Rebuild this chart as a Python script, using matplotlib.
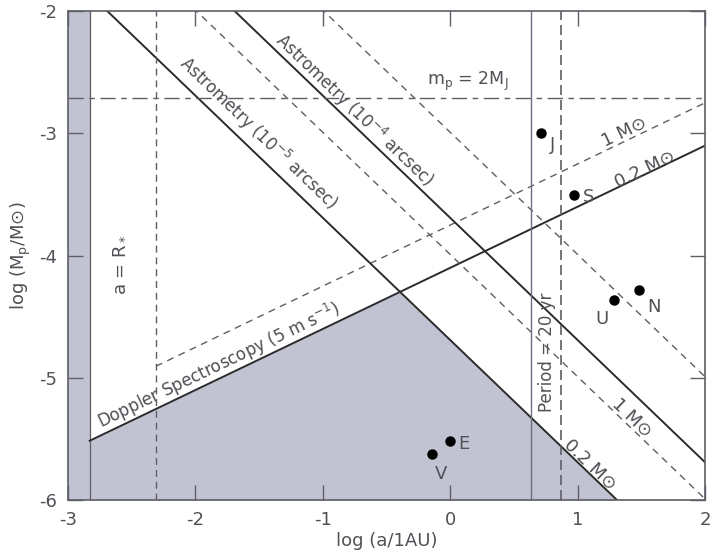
import numpy as np
import matplotlib
matplotlib.use('Agg')
import matplotlib.pyplot as plt

plt.rcParams['font.family'] = ['DejaVu Sans']
plt.rcParams['axes.unicode_minus'] = False

# Планеты Солнечной системы: log(a/1AU), log(Mp/Msun)
planets = ['J', 'S', 'U', 'N', 'E', 'V']
planet_x = [0.716, 0.975, 1.283, 1.479, 0.0, -0.141]
planet_y = [-3.00, -3.50, -4.36, -4.28, -5.52, -5.62]
label_off = [(6, -8), (6, -2), (-13, -14), (6, -12), (6, -2), (2, -15)]

# Границы (наклон, пересечение с осью y)
dopp_slope = 0.5
dopp_b_02 = -4.10   # 0.2 Msun, сплошная
dopp_b_1 = -3.75    # 1 Msun, штриховая
astr_slope = -1.0
astr5_b_02 = -4.69
astr5_b_1 = -3.99
astr4_b_02 = -3.69
astr4_b_1 = -2.99

a_rstar = -2.31
a_min = -2.83
m_2mj = -2.71
period_02 = 0.634
period_1 = 0.868

ink = '#2b2b2b'
grey = '#5e5e66'
txt = '#505056'
shade = '#c1c3d2'

fig = plt.figure(figsize=(7.1, 5.56), dpi=100)
ax = fig.add_axes([0.0958, 0.1007, 0.897, 0.879])
ax.set_xlim(-3, 2)
ax.set_ylim(-6, -2)

# Закрашенные области
ax.axvspan(-3, a_min, color=shade, lw=0, zorder=0)
xs = np.linspace(a_min, 2, 400)
upper = np.minimum(dopp_b_02 + dopp_slope * xs, astr5_b_02 + astr_slope * xs)
ax.fill_between(xs, -6, upper, where=upper > -6, color=shade, lw=0, zorder=0)
ax.axvline(a_min, color=grey, lw=0.9, zorder=1)

xx = np.array([-3.5, 2.5])
# Доплер
xd = np.array([a_min, 2.5])
ax.plot(xd, dopp_b_02 + dopp_slope * xd, color=ink, lw=1.4)
xd1 = np.array([a_rstar, 2.5])
ax.plot(xd1, dopp_b_1 + dopp_slope * xd1, color=grey, lw=1, dashes=(5, 4))
# Астрометрия
ax.plot(xx, astr5_b_02 + astr_slope * xx, color=ink, lw=1.4)
ax.plot(xx, astr4_b_02 + astr_slope * xx, color=ink, lw=1.4)
ax.plot(xx, astr5_b_1 + astr_slope * xx, color=grey, lw=1, dashes=(5, 4))
ax.plot(xx, astr4_b_1 + astr_slope * xx, color=grey, lw=1, dashes=(5, 4))

ax.axvline(a_rstar, color=grey, lw=1, dashes=(5, 3.5))
ax.axhline(m_2mj, color=grey, lw=1, dashes=(11, 4, 4, 4))
ax.axvline(period_02, color='#6e7080', lw=1)
ax.axvline(period_1, color=grey, lw=1.2, dashes=(6, 3))

# Планеты
ax.plot(planet_x, planet_y, 'o', color='black', ms=6.5, zorder=5)
for name, px, py, off in zip(planets, planet_x, planet_y, label_off):
    ax.annotate(name, (px, py), xytext=off, textcoords='offset points',
                fontsize=13, color=txt, va='center', ha='left')

kw = dict(color=txt, transform_rotates_text=True, rotation_mode='anchor',
          ha='center', va='center')
ang_a = np.degrees(np.arctan(astr_slope))
ang_d = np.degrees(np.arctan(dopp_slope))
ax.text(-1.51, -3.00, 'Astrometry (10$^{-5}$ arcsec)', rotation=ang_a, fontsize=12, **kw)
ax.text(-0.75, -2.81, 'Astrometry (10$^{-4}$ arcsec)', rotation=ang_a, fontsize=12, **kw)
ax.text(-1.82, -4.90, 'Doppler Spectroscopy (5 m s$^{-1}$)', rotation=ang_d, fontsize=12, **kw)
ax.text(1.37, -2.99, '1 M⊙', rotation=ang_d, fontsize=13, **kw)
ax.text(1.53, -3.29, '0.2 M⊙', rotation=ang_d, fontsize=13, **kw)
ax.text(1.43, -5.33, '1 M⊙', rotation=ang_a, fontsize=13, **kw)
ax.text(1.10, -5.71, '0.2 M⊙', rotation=ang_a, fontsize=13, **kw)
ax.text(-2.61, -4.07, 'a = R$_*$', rotation=90, fontsize=13, **kw)
ax.text(0.76, -4.79, 'Period = 20 yr', rotation=90, fontsize=12, **kw)
ax.text(0.14, -2.57, 'm$_\\mathrm{p}$ = 2M$_\\mathrm{J}$', fontsize=12.5, color=txt,
        ha='center', va='center')

ax.set_xticks([-3, -2, -1, 0, 1, 2])
ax.set_yticks([-6, -5, -4, -3, -2])
ax.tick_params(direction='in', length=11, width=1, color=grey, labelcolor=txt,
               labelsize=13, top=True, right=True, pad=8)
for s in ax.spines.values():
    s.set_color(grey)
    s.set_linewidth(1.2)
ax.set_xlabel('log (a/1AU)', fontsize=13, color=txt, labelpad=2)
ax.set_ylabel('log (M$_\\mathrm{p}$/M⊙)', fontsize=13, color=txt, labelpad=4)

plt.savefig('out.png', dpi=100)
